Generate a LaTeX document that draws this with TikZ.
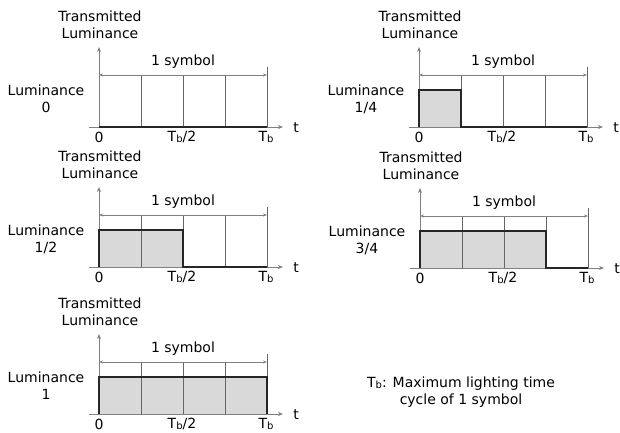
\documentclass[tikz,border=0pt]{standalone}
\usepackage{fontspec}
\setmainfont{DejaVu Sans}
\usetikzlibrary{arrows.meta}
\tikzset{
  axisline/.style={draw=black!50, line width=0.8pt},
  divline/.style={draw=black!60, line width=0.7pt},
  symarrow/.style={draw=black!50, line width=0.8pt, {Stealth[length=4pt,width=3pt]}-{Stealth[length=4pt,width=3pt]}},
  pulseline/.style={draw=black!85, line width=2.2pt, line join=miter},
  pulsefill/.style={fill=black!15},
  lbl/.style={font=\fontsize{14}{16}\selectfont, inner sep=0pt, align=center},
}
\newcommand\Tb{T\raisebox{-0.1ex}{\fontsize{10}{10}\selectfont b}}
\newcommand\lumpanel[5]{%
\begin{scope}[shift={(#2,#3)}]
  \coordinate (#1-o) at (0,0);
  \coordinate (#1-top) at (0,-80);
  \coordinate (#1-xs) at (-10,0);
  \coordinate (#1-xe) at (184,0);
  \coordinate (#1-e) at (168,0);
  \coordinate (#1-etop) at (168,-60);
  \coordinate (#1-sl) at (0,-52);
  \coordinate (#1-sr) at (168,-52);
  \ifnum#4>0 \fill[pulsefill] (0,0) rectangle (42*#4,-37);\fi
  \foreach \k in {1,2,3} \draw[divline] (42*\k,-52) -- (42*\k,0);
  \draw[divline] (#1-etop) -- (#1-e);
  \draw[axisline,-{Stealth[length=5pt,width=4pt]}] (#1-xs) -- (#1-xe);
  \draw[axisline,-{Stealth[length=5pt,width=4pt]}] (#1-o) -- (#1-top);
  \draw[symarrow] (#1-sl) -- (#1-sr);
  \ifnum#4>0
    \draw[pulseline] (#1-o) -- (0,-37) -- (42*#4,-37) -- (42*#4,0) -- (#1-e);
  \else
    \draw[pulseline] (#1-o) -- (#1-e);
  \fi
  \node[lbl] (#1-tl) at (1,-102) {Transmitted\\[1pt]Luminance};
  \node[lbl] (#1-sym) at (84,-65) {1 symbol};
  \node[lbl] (#1-ll) at (-53,-28) {Luminance\\[1pt]#5};
  \node[lbl] (#1-t0) at (0,10) {0};
  \node[lbl] (#1-th) at (83,10) {\Tb/2};
  \node[lbl] (#1-tb) at (167,10) {\Tb};
  \node[lbl] (#1-t) at (197,1) {t};
\end{scope}}
\begin{document}
\begin{tikzpicture}[x=1pt,y=-1pt]
  \useasboundingbox (0,0) rectangle (620,432);
  \lumpanel{p0}{99}{127}{0}{0}
  \lumpanel{p1}{419}{127}{1}{1/4}
  \lumpanel{p2}{99}{267}{2}{1/2}
  \lumpanel{p3}{420}{268}{3}{3/4}
  \lumpanel{p4}{99}{414}{4}{1}
  \node[lbl] (note) at (461,392) {\Tb: Maximum lighting time\\[1pt]cycle of 1 symbol};
\end{tikzpicture}
\end{document}
